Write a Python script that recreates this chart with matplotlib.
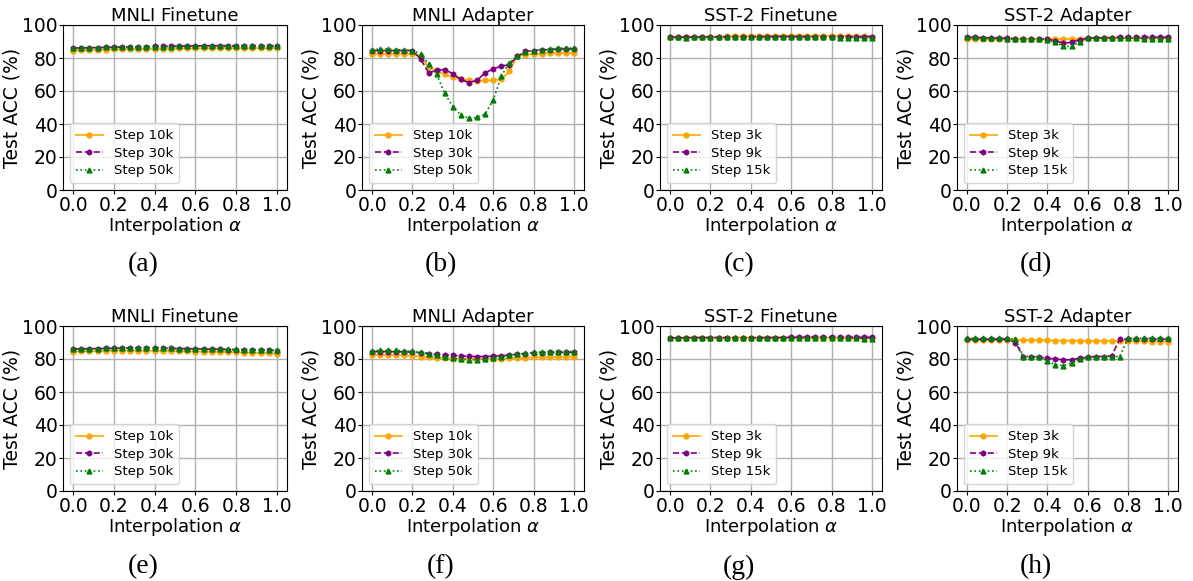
import numpy as np
import matplotlib.pyplot as plt

alpha = np.round(np.arange(26) * 0.04, 2)

titles = ["MNLI Finetune", "MNLI Adapter", "SST-2 Finetune", "SST-2 Adapter",
          "MNLI Finetune", "MNLI Adapter", "SST-2 Finetune", "SST-2 Adapter"]
captions = ["(a)", "(b)", "(c)", "(d)", "(e)", "(f)", "(g)", "(h)"]
mnli_labels = ["Step 10k", "Step 30k", "Step 50k"]
sst_labels = ["Step 3k", "Step 9k", "Step 15k"]

# (a) MNLI Finetune
a_10k = [84.5, 84.6, 84.8, 85.0, 85.1, 85.2, 85.3, 85.4, 85.5, 85.5, 85.6, 85.7, 85.7,
         85.8, 85.8, 85.9, 85.9, 86.0, 86.0, 86.0, 86.0, 86.0, 86.0, 86.0, 86.0, 86.0]
a_30k = [86.0, 86.1, 86.2, 86.3, 86.4, 86.5, 86.6, 86.7, 86.8, 86.9, 87.0, 87.1, 87.2,
         87.2, 87.3, 87.3, 87.4, 87.4, 87.5, 87.5, 87.5, 87.5, 87.5, 87.4, 87.4, 87.4]
a_50k = [86.0, 86.1, 86.2, 86.3, 86.4, 86.5, 86.6, 86.6, 86.7, 86.8, 86.8, 86.9, 86.9,
         87.0, 87.0, 87.1, 87.1, 87.1, 87.1, 87.1, 87.1, 87.1, 87.0, 87.0, 87.0, 87.0]

# (b) MNLI Adapter
b_10k = [82.5, 82.5, 82.5, 82.5, 82.5, 82.5, 81.0, 74.5, 72.0, 70.0, 68.5, 67.0, 66.5,
         66.0, 66.5, 66.5, 67.0, 72.0, 81.5, 82.0, 82.5, 82.5, 83.0, 83.0, 83.0, 83.0]
b_30k = [84.5, 84.5, 84.5, 84.5, 84.5, 84.5, 79.5, 71.0, 72.5, 73.0, 70.5, 67.0, 65.0,
         66.5, 71.0, 73.5, 75.0, 76.0, 81.0, 84.0, 84.5, 85.0, 85.0, 85.5, 85.5, 85.5]
b_50k = [85.0, 85.5, 85.5, 85.0, 85.0, 84.5, 82.5, 76.5, 70.0, 58.5, 50.5, 45.5, 43.5,
         44.0, 46.0, 54.5, 69.0, 77.0, 81.0, 83.5, 84.5, 85.0, 85.5, 86.0, 86.0, 86.0]

# (c) SST-2 Finetune
c_3k = [92.5, 92.6, 92.7, 92.8, 92.9, 93.0, 93.0, 93.1, 93.2, 93.3, 93.3, 93.4, 93.4,
        93.5, 93.5, 93.6, 93.6, 93.6, 93.5, 93.5, 93.4, 93.4, 93.3, 93.2, 93.1, 93.0]
c_9k = [92.5, 92.6, 92.6, 92.7, 92.7, 92.8, 92.8, 92.8, 92.9, 92.9, 92.9, 93.0, 93.0,
        93.0, 93.0, 93.0, 93.0, 93.0, 93.0, 93.0, 93.0, 93.0, 93.0, 93.0, 93.0, 93.0]
c_15k = [92.5, 92.5, 92.4, 92.5, 92.5, 92.5, 92.5, 92.5, 92.5, 92.5, 92.5, 92.5, 92.5,
         92.5, 92.5, 92.5, 92.5, 92.5, 92.5, 92.5, 92.5, 92.4, 92.4, 92.4, 92.4, 92.4]

# (d) SST-2 Adapter
d_3k = [91.5, 91.5, 91.5, 91.5, 91.5, 91.5, 91.5, 91.5, 91.5, 91.5, 91.5, 91.5, 91.5,
        91.5, 91.5, 92.0, 92.0, 92.0, 92.0, 92.0, 92.0, 92.0, 92.0, 92.0, 92.0, 92.0]
d_9k = [92.5, 92.5, 92.3, 92.2, 92.0, 92.0, 91.8, 91.8, 91.7, 91.5, 91.3, 90.5, 89.0,
        89.5, 91.0, 92.0, 92.2, 92.3, 92.4, 92.5, 92.5, 92.6, 92.6, 92.6, 92.6, 92.6]
d_15k = [92.8, 92.6, 92.4, 92.2, 92.0, 91.8, 91.6, 91.5, 91.5, 91.5, 91.0, 89.5, 87.0,
         87.0, 90.0, 92.0, 92.0, 92.0, 92.0, 92.0, 92.0, 92.0, 91.8, 91.8, 91.8, 91.8]

# (e) MNLI Finetune
e_10k = [84.5, 84.6, 84.7, 84.8, 84.9, 85.0, 85.0, 85.0, 85.0, 85.0, 85.0, 84.9, 84.8,
         84.7, 84.6, 84.5, 84.4, 84.3, 84.2, 84.1, 84.0, 83.9, 83.8, 83.6, 83.4, 83.2]
e_30k = [86.0, 86.1, 86.2, 86.3, 86.4, 86.5, 86.5, 86.6, 86.6, 86.6, 86.5, 86.5, 86.4,
         86.3, 86.2, 86.1, 86.0, 85.9, 85.8, 85.7, 85.6, 85.5, 85.4, 85.3, 85.2, 85.1]
e_50k = [86.0, 86.1, 86.2, 86.3, 86.4, 86.5, 86.6, 86.6, 86.6, 86.6, 86.5, 86.5, 86.4,
         86.3, 86.3, 86.2, 86.1, 86.0, 86.0, 85.9, 85.8, 85.7, 85.6, 85.5, 85.5, 85.4]

# (f) MNLI Adapter
f_10k = [82.5, 82.5, 82.5, 82.4, 82.2, 82.0, 81.5, 81.0, 80.8, 80.5, 80.2, 80.0, 80.0,
         80.0, 80.0, 80.0, 80.2, 80.4, 80.6, 80.8, 81.0, 81.1, 81.2, 81.3, 81.4, 81.5]
f_30k = [84.5, 84.5, 84.5, 84.4, 84.3, 84.2, 83.8, 83.3, 82.8, 82.5, 82.2, 81.8, 81.6,
         81.5, 81.5, 81.7, 82.0, 82.4, 82.8, 83.2, 83.5, 83.8, 84.0, 84.0, 84.0, 84.0]
f_50k = [85.0, 85.2, 85.3, 85.2, 85.0, 84.6, 84.0, 83.2, 82.2, 81.2, 80.5, 80.0, 79.5,
         79.5, 79.8, 80.5, 81.5, 82.3, 83.0, 83.5, 84.0, 84.2, 84.4, 84.5, 84.5, 84.5]

# (g) SST-2 Finetune
g_3k = [92.8, 92.8, 92.9, 92.9, 93.0, 93.0, 93.0, 93.0, 93.0, 93.0, 93.0, 93.0, 93.0,
        93.0, 93.0, 93.0, 93.0, 93.0, 93.0, 92.9, 92.8, 92.8, 92.7, 92.7, 92.6, 92.6]
g_9k = [92.8, 92.8, 92.9, 93.0, 93.0, 93.0, 93.0, 93.0, 92.8, 92.8, 92.9, 93.0, 93.0,
        93.0, 93.0, 93.1, 93.2, 93.3, 93.4, 93.4, 93.3, 93.3, 93.3, 93.2, 93.2, 93.2]
g_15k = [92.8, 92.8, 92.8, 92.8, 92.8, 92.8, 92.8, 92.8, 92.8, 92.8, 92.8, 92.8, 92.8,
         92.8, 92.8, 92.8, 92.8, 92.8, 92.8, 92.7, 92.6, 92.6, 92.5, 92.5, 92.4, 92.4]

# (h) SST-2 Adapter
h_3k = [91.5, 91.5, 91.5, 91.5, 91.5, 91.5, 91.5, 91.4, 91.4, 91.3, 91.3, 91.2, 91.2,
        91.1, 91.1, 91.0, 91.0, 91.0, 91.0, 91.0, 90.9, 90.8, 90.7, 90.6, 90.5, 90.5]
h_9k = [92.0, 92.0, 92.0, 92.0, 92.0, 92.0, 90.0, 81.5, 81.5, 81.0, 80.5, 80.0, 79.5,
        79.5, 80.5, 81.0, 81.5, 81.5, 82.0, 92.0, 92.0, 92.0, 92.0, 92.0, 92.0, 92.0]
h_15k = [92.5, 92.5, 92.5, 92.5, 92.5, 92.5, 92.0, 81.5, 81.5, 81.0, 79.0, 76.5, 76.0,
         77.5, 80.0, 81.0, 81.5, 81.5, 81.5, 81.5, 92.5, 92.5, 92.5, 92.5, 92.5, 92.5]

panels = [(a_10k, a_30k, a_50k), (b_10k, b_30k, b_50k), (c_3k, c_9k, c_15k), (d_3k, d_9k, d_15k),
          (e_10k, e_30k, e_50k), (f_10k, f_30k, f_50k), (g_3k, g_9k, g_15k), (h_3k, h_9k, h_15k)]
labels = [mnli_labels, mnli_labels, sst_labels, sst_labels] * 2

colors = ["orange", "purple", "green"]
styles = ["-", "--", ":"]
markers = ["o", "h", "^"]

W, H = 1193, 581
fig = plt.figure(figsize=(W / 100, H / 100), dpi=100)

lefts = [63, 362, 660, 957]
widths = [224, 222, 222, 221]
tops = [25, 326]
ah = 165

for i in range(8):
    r, c = divmod(i, 4)
    ax = fig.add_axes([lefts[c] / W, 1 - (tops[r] + ah) / H, widths[c] / W, ah / H])
    for ys, lab, col, ls, mk in zip(panels[i], labels[i], colors, styles, markers):
        ax.plot(alpha, ys, color=col, linestyle=ls, marker=mk, markersize=3.5,
                linewidth=1.2, label=lab)
    ax.set_xlim(-0.05, 1.05)
    ax.set_ylim(0, 100)
    ax.set_xticks([0.0, 0.2, 0.4, 0.6, 0.8, 1.0])
    ax.set_yticks([0, 20, 40, 60, 80, 100])
    ax.tick_params(labelsize=13.5, length=3, pad=1)
    ax.grid(True, color="#b0b0b0", linewidth=1)
    ax.set_title(titles[i], fontsize=13, pad=2)
    ax.set_xlabel(r"Interpolation $\alpha$", fontsize=13, labelpad=0)
    ax.set_ylabel("Test ACC (%)", fontsize=13.5, labelpad=0)
    ax.legend(loc="lower left", fontsize=9.5, handlelength=2.1, handletextpad=0.8,
              borderpad=0.45, labelspacing=0.35, borderaxespad=0.5)
    cx = (lefts[c] + widths[c] / 2 - 32) / W
    cy = 1 - (265 if r == 0 else 567) / H
    fig.text(cx, cy, captions[i], ha="center", va="center", fontsize=20,
             family="Liberation Serif")

plt.savefig("out.png", dpi=100)
